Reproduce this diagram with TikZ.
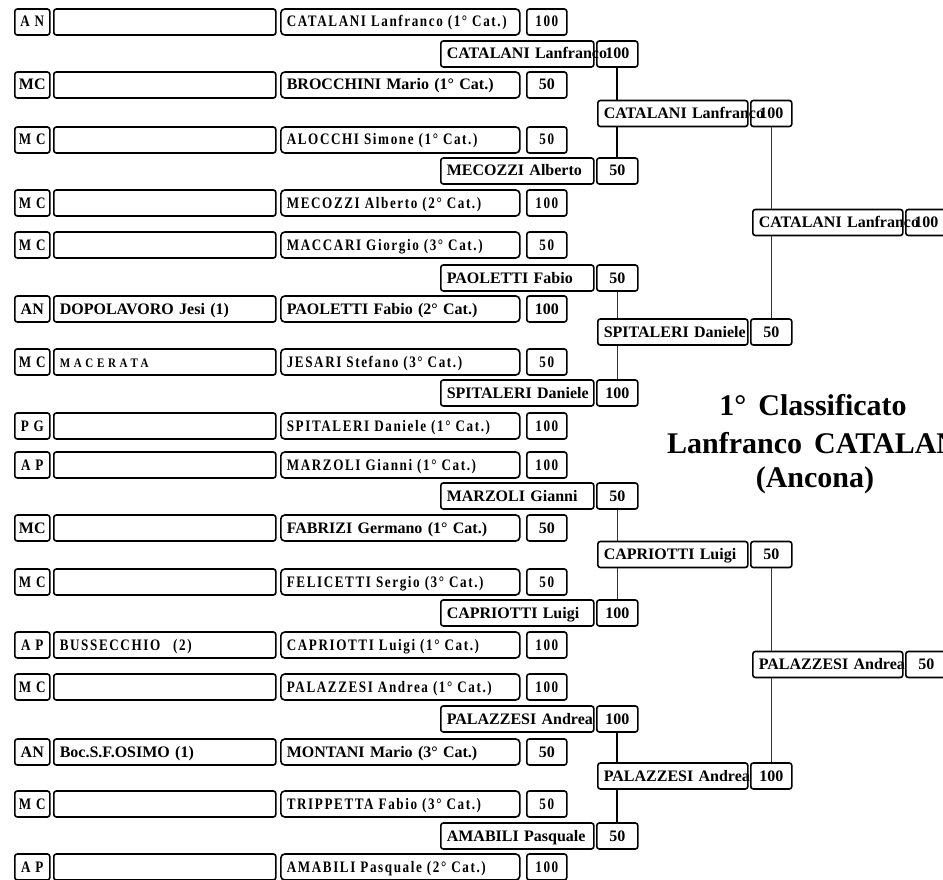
\documentclass[tikz,border=0pt]{standalone}
\usepackage{fontspec}
\setmainfont{Liberation Serif}
\newfontfamily\spcfont[FakeStretch=0.82,LetterSpace=10]{Liberation Serif}
\newfontfamily\widefont[FakeStretch=0.85,LetterSpace=28]{Liberation Serif}
\newcommand\wgap{\hspace{5pt}}
\newcommand\firstrow[6]{%
 \node[cbox=35pt] (g#1) at (14,#2) {#3};
 \node[lbox=210pt] (c#1) at (53,#2) {\mbox{#4}};
 \node[lbox=227pt,rounded corners=4pt] (n#1) at (280,#2) {\mbox{#5}};
 \node[cbox=40pt] (s#1) at (526,#2) {#6};}
\begin{document}
\begin{tikzpicture}[x=1pt,y=-1pt,
 bx/.style={draw, line width=1.6pt, rounded corners=2.5pt, inner sep=0pt,
   minimum height=26pt, anchor=west, text height=11pt, text depth=1pt,
   font=\bfseries\fontsize{16}{18}\selectfont},
 cbox/.style={bx, minimum width=#1},
 lbox/.style={bx, inner xsep=6pt, align=left, text width=#1},
 thinline/.style={line width=1pt, black!80},
 thickline/.style={line width=2pt, black},
 titlefont/.style={font=\bfseries\fontsize{30}{34}\selectfont, inner sep=0pt}]
\useasboundingbox (0,0) rectangle (943,880);
% ---- first round ----
\firstrow{1}{22}{\spcfont A N}{}{\spcfont CATALANI\wgap Lanfranco\wgap (1°\wgap Cat.)}{\spcfont 100}
\firstrow{2}{85}{MC}{}{BROCCHINI Mario (1° Cat.)}{50}
\firstrow{3}{140}{\spcfont M C}{}{\spcfont ALOCCHI\wgap Simone\wgap (1°\wgap Cat.)}{\spcfont 50}
\firstrow{4}{203}{\spcfont M C}{}{\spcfont MECOZZI\wgap Alberto\wgap (2°\wgap Cat.)}{\spcfont 100}
\firstrow{5}{245}{\spcfont M C}{}{\spcfont MACCARI\wgap Giorgio\wgap (3°\wgap Cat.)}{\spcfont 50}
\firstrow{6}{309}{AN}{DOPOLAVORO Jesi (1)}{PAOLETTI Fabio (2° Cat.)}{100}
\firstrow{7}{362}{\spcfont M C}{\fontsize{13}{15}\selectfont\widefont MACERATA}{\spcfont JESARI\wgap Stefano\wgap (3°\wgap Cat.)}{\spcfont 50}
\firstrow{8}{426}{\spcfont P G}{}{\spcfont SPITALERI\wgap Daniele\wgap (1°\wgap Cat.)}{\spcfont 100}
\firstrow{9}{465}{\spcfont A P}{}{\spcfont MARZOLI\wgap Gianni\wgap (1°\wgap Cat.)}{\spcfont 100}
\firstrow{10}{528}{MC}{}{FABRIZI Germano (1° Cat.)}{50}
\firstrow{11}{582}{\spcfont M C}{}{\spcfont FELICETTI\wgap Sergio\wgap (3°\wgap Cat.)}{\spcfont 50}
\firstrow{12}{645}{\spcfont A P}{\spcfont BUSSECCHIO\hspace{13pt}(2)}{\spcfont CAPRIOTTI\wgap Luigi\wgap (1°\wgap Cat.)}{\spcfont 100}
\firstrow{13}{687}{\spcfont M C}{}{\spcfont PALAZZESI\wgap Andrea\wgap (1°\wgap Cat.)}{\spcfont 100}
\firstrow{14}{752}{AN}{Boc.S.F.OSIMO (1)}{MONTANI Mario (3° Cat.)}{50}
\firstrow{15}{804}{\spcfont M C}{}{\spcfont TRIPPETTA\wgap Fabio\wgap (3°\wgap Cat.)}{\spcfont 50}
\firstrow{16}{867}{\spcfont A P}{}{\spcfont AMABILI\wgap Pasquale\wgap (2°\wgap Cat.)}{\spcfont 100}
% ---- second round ----
\node[lbox=141pt] (n2a) at (440,54)  {\mbox{CATALANI Lanfranco}};
\node[cbox=41pt]  (s2a) at (596,54)  {100};
\node[lbox=141pt] (n2b) at (440,171) {\mbox{MECOZZI Alberto}};
\node[cbox=41pt]  (s2b) at (596,171) {50};
\node[lbox=141pt] (n2c) at (440,278) {\mbox{PAOLETTI Fabio}};
\node[cbox=41pt]  (s2c) at (596,278) {50};
\node[lbox=141pt] (n2d) at (440,393) {\mbox{SPITALERI Daniele}};
\node[cbox=41pt]  (s2d) at (596,393) {100};
\node[lbox=141pt] (n2e) at (440,496) {\mbox{MARZOLI Gianni}};
\node[cbox=41pt]  (s2e) at (596,496) {50};
\node[lbox=141pt] (n2f) at (440,613) {\mbox{CAPRIOTTI Luigi}};
\node[cbox=41pt]  (s2f) at (596,613) {100};
\node[lbox=141pt] (n2g) at (440,719) {\mbox{PALAZZESI Andrea}};
\node[cbox=41pt]  (s2g) at (596,719) {100};
\node[lbox=141pt] (n2h) at (440,836) {\mbox{AMABILI Pasquale}};
\node[cbox=41pt]  (s2h) at (596,836) {50};
% ---- third round ----
\node[lbox=138pt] (n3a) at (597,113.5) {\mbox{CATALANI Lanfranco}};
\node[cbox=41pt]  (s3a) at (750,113.5) {100};
\node[lbox=138pt] (n3b) at (597,332)   {\mbox{SPITALERI Daniele}};
\node[cbox=41pt]  (s3b) at (750,332)   {50};
\node[lbox=138pt] (n3c) at (597,554.5) {\mbox{CAPRIOTTI Luigi}};
\node[cbox=41pt]  (s3c) at (750,554.5) {50};
\node[lbox=138pt] (n3d) at (597,776)   {\mbox{PALAZZESI Andrea}};
\node[cbox=41pt]  (s3d) at (750,776)   {100};
% ---- fourth round ----
\node[lbox=138pt] (n4a) at (752,222.5) {\mbox{CATALANI Lanfranco}};
\node[cbox=41pt]  (s4a) at (905,222.5) {100};
\node[lbox=138pt] (n4b) at (752,664.5) {\mbox{PALAZZESI Andrea}};
\node[cbox=41pt]  (s4b) at (905,664.5) {50};
% ---- connectors ----
\draw[thickline] (s2a.south) -- (s2a.south |- n3a.north);
\draw[thickline] (n3a.south -| s2b.north) -- (s2b.north);
\draw[thinline] (s2c.south) -- (s2c.south |- n3b.north);
\draw[thinline] (n3b.south -| s2d.north) -- (s2d.north);
\draw[thinline] (s2e.south) -- (s2e.south |- n3c.north);
\draw[thinline] (n3c.south -| s2f.north) -- (s2f.north);
\draw[thickline] (s2g.south) -- (s2g.south |- n3d.north);
\draw[thickline] (n3d.south -| s2h.north) -- (s2h.north);
\draw[thinline] (s3a.south) -- (s3a.south |- n4a.north);
\draw[thinline] (n4a.south -| s3b.north) -- (s3b.north);
\draw[thinline] (s3c.south) -- (s3c.south |- n4b.north);
\draw[thinline] (n4b.south -| s3d.north) -- (s3d.north);
% ---- winner ----
\node[titlefont] (t1) at (813,405) {1°\hspace{12pt}Classificato};
\node[titlefont,anchor=west] (t2) at (667,443) {Lanfranco\hspace{12pt}CATALANI};
\node[titlefont] (t3) at (815,480) {(Ancona)};
\end{tikzpicture}
\end{document}
